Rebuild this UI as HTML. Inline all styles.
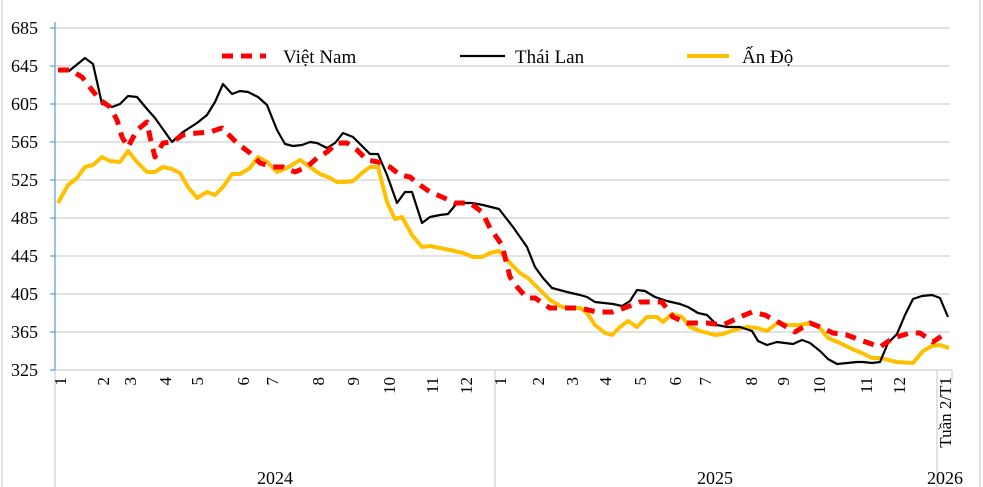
<!DOCTYPE html>
<html><head><meta charset="utf-8"><style>html,body{margin:0;padding:0;background:#fff}svg{display:block}</style></head><body>
<svg width="983" height="487" viewBox="0 0 983 487" xmlns="http://www.w3.org/2000/svg" font-family="Liberation Serif, serif">
<rect x="0" y="0" width="983" height="487" fill="#fff"/>
<line x1="2" y1="0" x2="2" y2="487" stroke="#d9d9d9" stroke-width="1.5"/>
<line x1="980" y1="0" x2="980" y2="487" stroke="#d9d9d9" stroke-width="1.5"/>
<g stroke="#d9d9d9" stroke-width="1.5">
<line x1="55" y1="28" x2="950" y2="28"/><line x1="55" y1="66" x2="950" y2="66"/><line x1="55" y1="104" x2="950" y2="104"/><line x1="55" y1="142" x2="950" y2="142"/><line x1="55" y1="180" x2="950" y2="180"/><line x1="55" y1="218" x2="950" y2="218"/><line x1="55" y1="256" x2="950" y2="256"/><line x1="55" y1="294" x2="950" y2="294"/><line x1="55" y1="332" x2="950" y2="332"/>
<line x1="55" y1="370" x2="952" y2="370"/>
<line x1="55" y1="370" x2="55" y2="487"/><line x1="495" y1="370" x2="495" y2="487"/><line x1="937" y1="370" x2="937" y2="487"/><line x1="952" y1="370" x2="952" y2="380"/>
</g>
<line x1="55" y1="22" x2="55" y2="370" stroke="#5b9bd5" stroke-width="1.2"/>
<g stroke="#5b9bd5" stroke-width="1.2"><line x1="50" y1="28" x2="55" y2="28"/><line x1="50" y1="66" x2="55" y2="66"/><line x1="50" y1="104" x2="55" y2="104"/><line x1="50" y1="142" x2="55" y2="142"/><line x1="50" y1="180" x2="55" y2="180"/><line x1="50" y1="218" x2="55" y2="218"/><line x1="50" y1="256" x2="55" y2="256"/><line x1="50" y1="294" x2="55" y2="294"/><line x1="50" y1="332" x2="55" y2="332"/><line x1="50" y1="370" x2="55" y2="370"/></g>
<g font-size="18" text-anchor="end" fill="#000">
<text x="38" y="34">685</text><text x="38" y="72">645</text><text x="38" y="110">605</text><text x="38" y="148">565</text><text x="38" y="186">525</text><text x="38" y="224">485</text><text x="38" y="262">445</text><text x="38" y="300">405</text><text x="38" y="338">365</text><text x="38" y="376">325</text>
</g>
<g font-size="17" text-anchor="end" fill="#000">
<text transform="translate(66,377) rotate(-90)">1</text>
<text transform="translate(109,377) rotate(-90)">2</text>
<text transform="translate(136,377) rotate(-90)">3</text>
<text transform="translate(171,377) rotate(-90)">4</text>
<text transform="translate(203,377) rotate(-90)">5</text>
<text transform="translate(249,377) rotate(-90)">6</text>
<text transform="translate(278,377) rotate(-90)">7</text>
<text transform="translate(324,377) rotate(-90)">8</text>
<text transform="translate(359,377) rotate(-90)">9</text>
<text transform="translate(395,377) rotate(-90)">10</text>
<text transform="translate(438,377) rotate(-90)">11</text>
<text transform="translate(472,377) rotate(-90)">12</text>
<text transform="translate(506,377) rotate(-90)">1</text>
<text transform="translate(544,377) rotate(-90)">2</text>
<text transform="translate(578,377) rotate(-90)">3</text>
<text transform="translate(611,377) rotate(-90)">4</text>
<text transform="translate(646,377) rotate(-90)">5</text>
<text transform="translate(681,377) rotate(-90)">6</text>
<text transform="translate(711,377) rotate(-90)">7</text>
<text transform="translate(757,377) rotate(-90)">8</text>
<text transform="translate(789,377) rotate(-90)">9</text>
<text transform="translate(825,377) rotate(-90)">10</text>
<text transform="translate(872,377) rotate(-90)">11</text>
<text transform="translate(905,377) rotate(-90)">12</text>
<text transform="translate(951,377) rotate(-90)">Tuần 2/T1</text>
</g>
<g font-size="18" text-anchor="middle" fill="#000">
<text x="275" y="484">2024</text><text x="715" y="484">2025</text><text x="945" y="484">2026</text>
</g>
<polyline fill="none" stroke="#ffc000" stroke-width="4" stroke-linejoin="round" points="58,203 68,185 77,178 85,167 93,165 102,157 110,161 120,162 128,151 137,162 147,172 155,172 163,167 172,169 180,173 188,187 197,198 207,192 215,195 223,187 232,174 240,174 250,168 258,157 267,162 277,172 287,168 300,160 310,167 320,174 328,177 337,182 345,182 353,181 362,173 370,167 378,167 387,202 395,219 402,217 412,235 422,247 430,246 440,248 450,250 463,253 473,257 482,257 490,253 499,251 512,265 520,273 528,278 540,290 550,300 562,307 580,308 587,313 595,325 605,333 612,335 620,327 628,321 637,327 647,317 657,317 663,322 672,314 682,317 690,327 700,331 715,335 723,334 737,329 747,327 757,328 767,331 777,323 788,325 800,325 810,323 820,328 828,338 840,343 852,349 862,353 872,358 880,358 897,362 913,363 923,351 932,346 940,345 949,348"/>
<polyline fill="none" stroke="#000" stroke-width="2.2" stroke-linejoin="round" points="58,71 69,71 85,58 93,64 102,104 112,107 120,104 128,96 137,97 147,109 155,118 172,142 183,132 197,123 207,115 215,102 223,84 232,94 240,91 248,92 258,97 267,105 277,130 285,144 293,146 302,145 310,142 317,143 327,148 335,143 343,133 353,137 363,147 370,154 378,154 387,175 397,203 405,192 412,192 422,223 430,217 440,215 448,214 457,203 472,203 483,205 499,209 513,227 527,247 535,267 543,278 552,288 567,292 580,295 587,297 595,302 613,304 622,306 630,301 637,290 645,291 655,297 667,301 680,304 688,307 698,313 707,315 717,325 727,327 740,327 752,331 758,341 767,345 777,342 785,343 793,344 802,340 810,343 820,351 828,359 837,364 847,363 857,362 863,362 872,363 880,362 888,343 897,334 905,315 913,299 922,296 932,295 940,298 948,317"/>
<polyline fill="none" stroke="#ff0000" stroke-width="5" stroke-dasharray="11,8" stroke-linejoin="round" points="58,70 70,70 82,77 92,90 100,100 110,107 117,120 122,137 128,147 137,130 147,122 150,137 155,157 163,143 172,142 183,135 197,133 210,132 222,128 237,143 250,153 260,163 273,167 283,167 295,172 307,167 317,158 327,152 337,143 347,143 357,150 367,160 378,162 390,167 400,175 410,177 420,185 430,192 442,197 455,203 470,203 482,212 490,228 502,245 510,277 518,288 527,298 535,298 550,308 563,308 580,308 597,312 613,312 627,307 640,302 662,302 673,317 687,323 707,323 723,325 740,317 752,312 765,315 780,323 795,332 810,323 820,327 833,333 847,335 860,340 880,347 893,338 910,333 920,333 933,342 943,335"/>
<line x1="222" y1="56" x2="266" y2="56" stroke="#ff0000" stroke-width="5" stroke-dasharray="11,8"/>
<text x="283" y="63" font-size="19">Việt Nam</text>
<line x1="460" y1="56" x2="505" y2="56" stroke="#000" stroke-width="2.2"/>
<text x="515" y="63" font-size="19">Thái Lan</text>
<line x1="687" y1="56" x2="729" y2="56" stroke="#ffc000" stroke-width="4"/>
<text x="742" y="63" font-size="19">Ấn Độ</text>
</svg>
</body></html>
